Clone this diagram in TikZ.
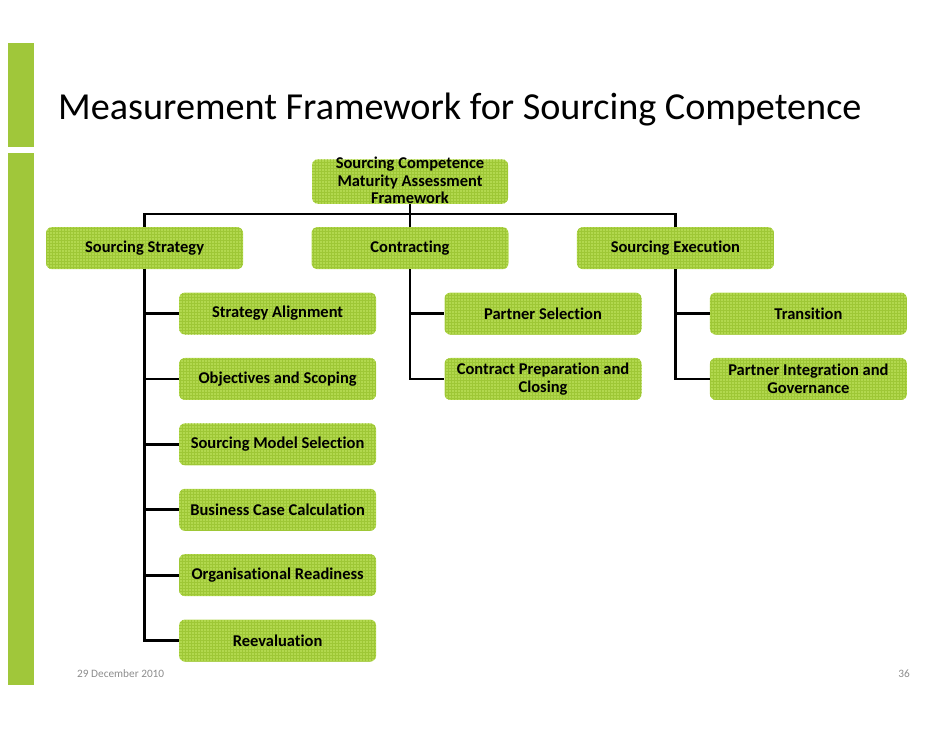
\documentclass[tikz,border=0pt]{standalone}
\usepackage{fontspec}
\setmainfont{Carlito}[Ligatures=NoCommon]
\usepackage{xcolor}
\usetikzlibrary{positioning}
\definecolor{limegreen}{RGB}{178,216,78}
\definecolor{gridgreen}{RGB}{158,199,54}
\definecolor{bargreen}{RGB}{160,199,58}
\definecolor{footgray}{RGB}{140,140,140}
\tikzset{
  gbox/.style={fill=limegreen, rounded corners=6pt, align=center, font=\bfseries\fontsize{16.5}{17.5}\selectfont, inner sep=2pt, minimum height=42pt, minimum width=197pt,
    path picture={\draw[gridgreen, line width=0.4pt, step=3pt] (path picture bounding box.south west) grid (path picture bounding box.north east);}},
  tline/.style={line width=2.9pt}
}

\begin{document}
\begin{tikzpicture}[x=1pt, y=-1pt]
\useasboundingbox (0,0) rectangle (942,728);
% side bar
\fill[bargreen] (8,43) rectangle (34,147);
\fill[bargreen] (8,153) rectangle (34,685);
\node[anchor=base west, font=\fontsize{38.2}{40}\selectfont, inner sep=0pt] (title) at (58,119) {Measurement Framework for Sourcing Competence};

% top of the tree
\node[gbox, minimum width=196pt, minimum height=43pt, inner ysep=0pt, text height=44.5pt, text depth=-1.5pt] (root) at (410,181.5) {Sourcing Competence\\Maturity Assessment\\Framework};
\node[gbox, below=23pt of root] (contr) {Contracting};
\node[gbox, left=68pt of contr] (strat) {Sourcing Strategy};
\node[gbox, right=68pt of contr] (exec) {Sourcing Execution};

% sourcing strategy
\node[gbox, below=23pt of strat, xshift=133pt] (s1) {Strategy Alignment};
\node[gbox, below=23pt of s1] (s2) {Objectives and Scoping};
\node[gbox, below=23pt of s2] (s3) {Sourcing Model Selection};
\node[gbox, below=23pt of s3] (s4) {Business Case Calculation};
\node[gbox, below=23pt of s4] (s5) {Organisational Readiness};
\node[gbox, below=23pt of s5] (s6) {Reevaluation};

% contracting
\node[gbox, below=23pt of contr, xshift=133pt] (c1) {Partner Selection};
\node[gbox, below=23pt of c1] (c2) {Contract Preparation and\\Closing};

% sourcing execution
\node[gbox, below=23pt of exec, xshift=133pt] (e1) {Transition};
\node[gbox, below=23pt of e1] (e2) {Partner Integration and\\Governance};

% connectors
\draw[tline] (root.south) -- (contr.north);
\draw[tline] (strat.north) -- ++(0,13pt) -| (exec.north);
\draw[tline] (strat.south) |- (s6.west);
\foreach \k in {s1,s2,s3,s4,s5}
  \draw[tline] (strat.south |- \k.west) -- (\k.west);
\draw[tline] (contr.south) |- (c2.west);
\draw[tline] (contr.south |- c1.west) -- (c1.west);
\draw[tline] (exec.south) |- (e2.west);
\draw[tline] (exec.south |- e1.west) -- (e1.west);

% footer
\node[anchor=base west, font=\fontsize{11.3}{13}\selectfont, text=footgray, inner sep=0pt] (date) at (77,677) {29 December 2010};
\node[anchor=base east, font=\fontsize{11.3}{13}\selectfont, text=footgray, inner sep=0pt] (page) at (910,677) {36};
\end{tikzpicture}
\end{document}
